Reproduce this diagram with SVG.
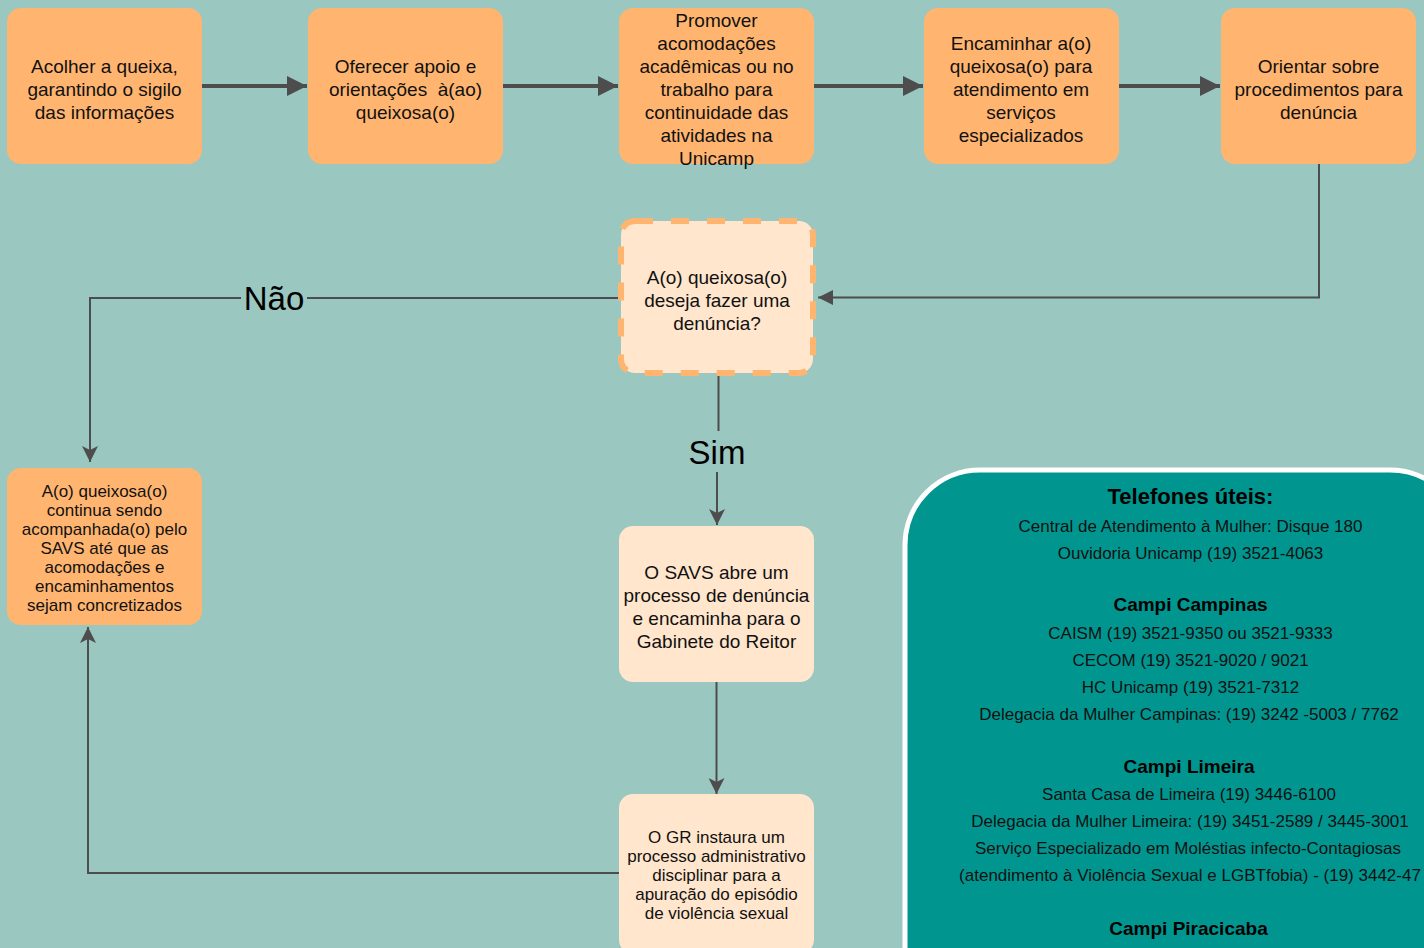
<svg xmlns="http://www.w3.org/2000/svg" width="1424" height="948" viewBox="0 0 1424 948">
<style>
  text { font-family: "Liberation Sans", Arial, Helvetica, sans-serif; fill: #111; text-anchor: middle; }
  .n { fill: #FFB570; }
  .l { fill: #FFE6CC; }
  .t19 { font-size: 19px; }
  .t17 { font-size: 17px; }
  .lbl { font-size: 33px; fill: #000; }
  .thick { stroke: #4D4D4D; stroke-width: 4; fill: none; }
  .thin { stroke: #4D4D4D; stroke-width: 2; fill: none; }
  .ph { font-size: 17px; fill: #111; }
  .ph-h { font-size: 19px; font-weight: bold; fill: #000; }
</style>
<defs>
  <marker id="bigBlock" markerUnits="userSpaceOnUse" markerWidth="20" markerHeight="20" refX="20" refY="10" orient="auto">
    <path d="M0,0 L20,10 L0,20 z" fill="#4D4D4D"/>
  </marker>
  <marker id="smallBlock" markerUnits="userSpaceOnUse" markerWidth="15" markerHeight="15" refX="15" refY="7.5" orient="auto">
    <path d="M0,0 L15,7.5 L0,15 z" fill="#4D4D4D"/>
  </marker>
  <marker id="classic" markerUnits="userSpaceOnUse" markerWidth="16" markerHeight="16" refX="16" refY="8" orient="auto">
    <path d="M0,0 L16,8 L0,16 L4,8 z" fill="#4D4D4D"/>
  </marker>
</defs>

<rect x="0" y="0" width="1424" height="948" fill="#9AC7BF"/>

<g id="connectors">
  <path class="thick" d="M202,86 H307" marker-end="url(#bigBlock)"/>
  <path class="thick" d="M503,86 H618" marker-end="url(#bigBlock)"/>
  <path class="thick" d="M813,86 H923" marker-end="url(#bigBlock)"/>
  <path class="thick" d="M1118,86 H1220" marker-end="url(#bigBlock)"/>
  <path class="thin" d="M1319,164 V297.5 H818" marker-end="url(#smallBlock)"/>
  <path class="thin" d="M619,298 H90 V462" marker-end="url(#classic)"/>
  <rect x="241" y="280" width="66" height="36" fill="#9AC7BF"/>
  <text class="lbl" x="274" y="309.5">Não</text>
  <path class="thin" d="M718.5,376 V431 M717,472 V525" marker-end="url(#classic)"/>
  <text class="lbl" x="717" y="463.5">Sim</text>
  <path class="thin" d="M716.5,682 V794" marker-end="url(#classic)"/>
  <path class="thin" d="M619,873 H88 V627" marker-end="url(#classic)"/>
</g>

<g id="node-acolher">
  <rect class="n" x="7" y="8" width="195" height="156" rx="14"/>
  <text class="t19" x="104.5"><tspan x="104.5" y="72.6">Acolher a queixa,</tspan><tspan x="104.5" y="95.6">garantindo o sigilo</tspan><tspan x="104.5" y="118.6">das informações</tspan></text>
</g>

<g id="node-oferecer">
  <rect class="n" x="308" y="8" width="195" height="156" rx="14"/>
  <text class="t19" x="405.5"><tspan x="405.5" y="72.6">Oferecer apoio e</tspan><tspan x="405.5" y="95.6" style="white-space:pre">orientações  à(ao)</tspan><tspan x="405.5" y="118.6">queixosa(o)</tspan></text>
</g>

<g id="node-promover">
  <rect class="n" x="619" y="8" width="195" height="156" rx="14"/>
  <text class="t19" x="716.5"><tspan x="716.5" y="26.6">Promover</tspan><tspan x="716.5" y="49.6">acomodações</tspan><tspan x="716.5" y="72.6">acadêmicas ou no</tspan><tspan x="716.5" y="95.6">trabalho para</tspan><tspan x="716.5" y="118.6">continuidade das</tspan><tspan x="716.5" y="141.6">atividades na</tspan><tspan x="716.5" y="164.6">Unicamp</tspan></text>
</g>

<g id="node-encaminhar">
  <rect class="n" x="924" y="8" width="195" height="156" rx="14"/>
  <text class="t19" x="1021"><tspan x="1021" y="49.6">Encaminhar a(o)</tspan><tspan x="1021" y="72.6">queixosa(o) para</tspan><tspan x="1021" y="95.6">atendimento em</tspan><tspan x="1021" y="118.6">serviços</tspan><tspan x="1021" y="141.6">especializados</tspan></text>
</g>

<g id="node-orientar">
  <rect class="n" x="1221" y="8" width="195" height="156" rx="14"/>
  <text class="t19" x="1318.5"><tspan x="1318.5" y="72.6">Orientar sobre</tspan><tspan x="1318.5" y="95.6">procedimentos para</tspan><tspan x="1318.5" y="118.6">denúncia</tspan></text>
</g>

<g id="node-decisao">
  <rect class="l" x="621" y="221" width="192" height="152" rx="14" stroke="#FFB570" stroke-width="6" stroke-dasharray="18 18"/>
  <text class="t19" x="717"><tspan x="717" y="284">A(o) queixosa(o)</tspan><tspan x="717" y="307">deseja fazer uma</tspan><tspan x="717" y="330">denúncia?</tspan></text>
</g>

<g id="node-continua">
  <rect class="n" x="7" y="468" width="195" height="157" rx="14"/>
  <text class="t17" x="104.5"><tspan x="104.5" y="497">A(o) queixosa(o)</tspan><tspan x="104.5" y="516">continua sendo</tspan><tspan x="104.5" y="535">acompanhada(o) pelo</tspan><tspan x="104.5" y="554">SAVS até que as</tspan><tspan x="104.5" y="573">acomodações e</tspan><tspan x="104.5" y="592">encaminhamentos</tspan><tspan x="104.5" y="611">sejam concretizados</tspan></text>
</g>

<g id="node-savs">
  <rect class="l" x="619" y="526" width="195" height="156" rx="14"/>
  <text class="t19" x="716.5"><tspan x="716.5" y="579">O SAVS abre um</tspan><tspan x="716.5" y="602">processo de denúncia</tspan><tspan x="716.5" y="625">e encaminha para o</tspan><tspan x="716.5" y="648">Gabinete do Reitor</tspan></text>
</g>

<g id="node-gr">
  <rect class="l" x="619" y="794" width="195" height="160" rx="14"/>
  <text class="t17" x="716.5"><tspan x="716.5" y="843">O GR instaura um</tspan><tspan x="716.5" y="862">processo administrativo</tspan><tspan x="716.5" y="881">disciplinar para a</tspan><tspan x="716.5" y="900">apuração do episódio</tspan><tspan x="716.5" y="919">de violência sexual</tspan></text>
</g>

<g id="telefones">
  <rect x="905" y="470" width="560" height="560" rx="75" fill="#00968F" stroke="#FFFFFF" stroke-width="5"/>
  <text x="1190.5" y="504" style="font-size:22px;font-weight:bold;fill:#000">Telefones úteis:</text>
  <text class="ph" x="1190.5" y="532">Central de Atendimento à Mulher: Disque 180</text>
  <text class="ph" x="1190.5" y="559">Ouvidoria Unicamp (19) 3521-4063</text>
  <text class="ph-h" x="1190.5" y="611">Campi Campinas</text>
  <text class="ph" x="1190.5" y="639">CAISM (19) 3521-9350 ou 3521-9333</text>
  <text class="ph" x="1190.5" y="666">CECOM (19) 3521-9020 / 9021</text>
  <text class="ph" x="1190.5" y="693">HC Unicamp (19) 3521-7312</text>
  <text class="ph" x="1189" y="720">Delegacia da Mulher Campinas: (19) 3242 -5003 / 7762</text>
  <text class="ph-h" x="1189" y="773">Campi Limeira</text>
  <text class="ph" x="1189" y="800">Santa Casa de Limeira (19) 3446-6100</text>
  <text class="ph" x="1190" y="827">Delegacia da Mulher Limeira: (19) 3451-2589 / 3445-3001</text>
  <text class="ph" x="1188" y="854">Serviço Especializado em Moléstias infecto-Contagiosas</text>
  <text class="ph" x="1190" y="881">(atendimento à Violência Sexual e LGBTfobia) - (19) 3442-47</text>
  <text class="ph-h" x="1188.5" y="935">Campi Piracicaba</text>
</g>
</svg>
